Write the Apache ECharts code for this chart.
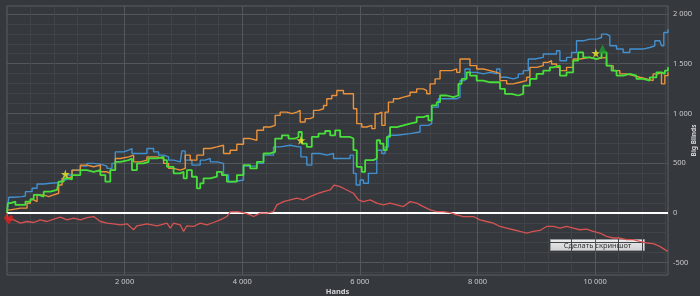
<!DOCTYPE html>
<html><head><meta charset="utf-8">
<script src="https://cdn.jsdelivr.net/npm/echarts@6/dist/echarts.min.js"></script>
<style>html,body{margin:0;padding:0;background:#35383c;}#c{width:700px;height:296px;}</style>
</head><body><div id="c"></div>
<script>
// [hands, big blinds]
const blueLine = [[0,0],[30,157],[115,163],[256,170],[313,213],[426,247],[511,290],[624,297],[737,303],[851,320],[936,337],[1021,380],[1106,430],[1247,470],[1360,497],[1474,490],[1587,470],[1700,447],[1785,497],[1842,613],[1983,630],[2068,647],[2125,597],[2266,597],[2380,647],[2493,613],[2578,580],[2663,563],[2748,530],[2833,513],[2946,513],[2974,623],[3031,530],[3144,480],[3286,530],[3371,547],[3456,513],[3569,497],[3682,380],[3767,313],[3852,330],[4022,470],[4249,497],[4362,580],[4532,663],[4645,680],[4815,663],[4957,663],[4997,563],[5098,480],[5183,597],[5325,580],[5438,597],[5552,547],[5721,547],[5835,580],[5891,397],[5937,280],[6005,330],[6061,297],[6146,397],[6231,397],[6288,630],[6373,597],[6429,663],[6486,780],[6628,797],[6854,813],[7024,880],[7165,897],[7222,1063],[7335,1147],[7533,1147],[7647,1163],[7703,1330],[7788,1447],[7873,1413],[7986,1397],[8099,1413],[8213,1397],[8326,1447],[8383,1363],[8496,1347],[8609,1363],[8694,1397],[8779,1430],[8864,1547],[8977,1563],[9119,1597],[9232,1597],[9345,1630],[9402,1530],[9515,1563],[9600,1613],[9685,1730],[9798,1747],[9912,1747],[10025,1763],[10110,1797],[10195,1780],[10251,1680],[10365,1647],[10478,1613],[10591,1647],[10704,1647],[10817,1663],[10931,1680],[11016,1730],[11101,1747],[11129,1680],[11169,1813],[11240,1847]];
const orangeLine = [[0,0],[13,30],[58,47],[228,47],[341,97],[398,130],[454,113],[511,180],[624,163],[709,180],[794,197],[879,280],[936,347],[1021,363],[1106,430],[1247,480],[1360,463],[1474,480],[1587,413],[1700,397],[1757,430],[1842,547],[1927,563],[2068,580],[2153,513],[2266,530],[2380,563],[2550,547],[2663,497],[2748,447],[2833,430],[2946,447],[3031,580],[3116,530],[3229,580],[3342,647],[3456,663],[3569,680],[3682,597],[3795,630],[3908,690],[4022,747],[4136,730],[4249,830],[4362,863],[4476,880],[4560,980],[4645,1013],[4759,997],[4844,1013],[4929,1030],[4985,913],[5070,947],[5155,963],[5212,1030],[5297,1047],[5382,1080],[5438,1147],[5523,1180],[5608,1230],[5721,1197],[5835,1197],[5891,1047],[5948,897],[6033,863],[6118,880],[6203,847],[6259,997],[6316,1013],[6373,880],[6429,1013],[6486,1113],[6571,1147],[6656,1163],[6741,1180],[6854,1213],[6967,1247],[7080,1230],[7137,1197],[7194,1297],[7279,1347],[7364,1430],[7477,1430],[7562,1447],[7647,1413],[7703,1547],[7788,1547],[7873,1480],[7986,1447],[8099,1430],[8213,1413],[8326,1397],[8383,1330],[8496,1297],[8609,1313],[8722,1330],[8836,1363],[8892,1463],[9005,1480],[9119,1513],[9204,1530],[9260,1497],[9345,1463],[9402,1430],[9515,1463],[9628,1547],[9742,1563],[9912,1547],[10025,1557],[10110,1563],[10195,1480],[10308,1430],[10421,1397],[10535,1380],[10648,1363],[10761,1347],[10874,1330],[10987,1397],[11072,1413],[11129,1297],[11186,1380],[11240,1413]];
const greenLine = [[0,0],[13,97],[58,113],[143,80],[228,80],[313,113],[398,137],[454,180],[539,163],[624,213],[737,230],[851,247],[879,313],[964,347],[1021,337],[1106,380],[1247,430],[1360,413],[1474,430],[1587,380],[1672,313],[1757,430],[1842,513],[1927,530],[2068,547],[2125,430],[2210,497],[2323,513],[2408,547],[2550,563],[2663,530],[2720,463],[2833,397],[2946,413],[3003,347],[3059,430],[3144,363],[3229,247],[3286,297],[3342,347],[3456,363],[3569,413],[3654,380],[3739,313],[3796,313],[3909,380],[4022,480],[4136,447],[4249,513],[4362,597],[4476,613],[4560,747],[4674,780],[4787,747],[4900,763],[4957,813],[5014,697],[5098,663],[5183,763],[5297,797],[5410,823],[5495,780],[5580,830],[5665,763],[5778,763],[5835,747],[5891,630],[5948,463],[6033,413],[6090,530],[6175,530],[6231,547],[6288,730],[6344,697],[6401,630],[6458,763],[6514,863],[6628,880],[6741,897],[6854,913],[6967,963],[7080,980],[7165,930],[7222,1080],[7307,1113],[7364,1180],[7477,1163],[7590,1180],[7675,1297],[7732,1347],[7817,1413],[7873,1380],[7986,1330],[8099,1313],[8213,1313],[8326,1313],[8383,1247],[8467,1197],[8581,1180],[8694,1197],[8779,1280],[8892,1347],[9005,1397],[9119,1430],[9232,1463],[9289,1480],[9402,1380],[9515,1413],[9628,1530],[9713,1613],[9798,1563],[9912,1547],[10025,1563],[10110,1613],[10195,1480],[10280,1430],[10365,1380],[10478,1397],[10591,1380],[10704,1347],[10817,1330],[10931,1363],[11044,1413],[11129,1397],[11186,1430],[11240,1463]];
const redLine = [[0,0],[13,-63],[115,-70],[228,-103],[341,-87],[454,-97],[567,-70],[681,-87],[794,-63],[907,-43],[1021,-70],[1134,-53],[1247,-70],[1360,-47],[1474,-37],[1587,-87],[1700,-103],[1813,-110],[1927,-120],[2040,-110],[2153,-170],[2210,-130],[2380,-110],[2550,-130],[2720,-103],[2776,-153],[2833,-103],[2946,-120],[3003,-187],[3059,-130],[3172,-137],[3286,-103],[3399,-120],[3512,-97],[3626,-70],[3739,-37],[3796,10],[3909,13],[4022,3],[4136,-20],[4192,-37],[4306,-3],[4419,-3],[4532,13],[4589,80],[4702,113],[4815,130],[4929,147],[5042,130],[5155,163],[5268,190],[5382,213],[5495,230],[5563,280],[5665,263],[5778,230],[5891,197],[5976,130],[6061,113],[6175,130],[6288,97],[6401,80],[6514,97],[6628,80],[6741,63],[6854,113],[6967,97],[7080,63],[7194,30],[7307,13],[7420,13],[7534,3],[7647,-20],[7760,-37],[7816,-37],[7930,-37],[8043,-70],[8156,-87],[8269,-103],[8383,-137],[8496,-153],[8609,-170],[8722,-187],[8836,-203],[8949,-187],[9062,-177],[9175,-137],[9289,-137],[9402,-153],[9515,-137],[9628,-153],[9742,-170],[9855,-163],[9968,-187],[10081,-203],[10195,-237],[10308,-253],[10421,-253],[10535,-270],[10648,-270],[10761,-287],[10874,-303],[10987,-310],[11101,-337],[11186,-370],[11240,-387]];
const starPoints = [[992,390],[4997,730],[10013,1607]];
const trianglePoints = [[10127,1647]];
const heartPoints = [[29,-70]];
const xTickLabels = [2000,4000,6000,8000,10000];
const yTickLabels = [-500,0,500,1000,1500,2000];
const buttonText = 'Сделать скриншот';

const xMin = 0, xMax = 11240, yMin = -625, yMax = 2080;
const xMinor = [], yMinor = [];
for (let v = 400; v < xMax; v += 400) if (v % 2000 !== 0) xMinor.push(v);
for (let v = -600; v <= 2000; v += 100) if (v % 500 !== 0) yMinor.push(v);

const fmt = v => String(v).replace(/\B(?=(\d{3})+(?!\d))/g, ' ');
const FONT = 'Noto Sans';
const labelColor = '#c9cbcd';

const chart = echarts.init(document.getElementById('c'), null, {renderer: 'canvas'});
chart.setOption({
  animation: false,
  backgroundColor: '#35383c',
  grid: {left: 7, right: 32, top: 6, bottom: 21, show: true, borderColor: '#5d6166', borderWidth: 1,
         backgroundColor: 'transparent', containLabel: false, outerBoundsMode: 'none'},
  xAxis: [
    {type: 'value', min: xMin, max: xMax, position: 'bottom',
     axisLine: {show: false}, axisTick: {show: false, customValues: xTickLabels},
     axisLabel: {customValues: xTickLabels, formatter: fmt, color: labelColor, fontSize: 7.5, fontFamily: FONT, margin: 3},
     splitLine: {show: true, lineStyle: {color: '#54585d', width: 1}},
     name: 'Hands', nameLocation: 'middle', nameGap: 13, nameMoveOverlap: false,
     nameTextStyle: {color: '#d4d6d8', fontSize: 7.5, fontWeight: 'bold', fontFamily: FONT}},
    {type: 'value', min: xMin, max: xMax, position: 'bottom',
     axisLine: {show: false}, axisTick: {show: false, customValues: xMinor},
     axisLabel: {show: false}, splitLine: {show: true, lineStyle: {color: '#404347', width: 1}}}
  ],
  yAxis: [
    {type: 'value', min: yMin, max: yMax, position: 'right',
     axisLine: {show: false}, axisTick: {show: false, customValues: yTickLabels},
     axisLabel: {customValues: yTickLabels, formatter: fmt, color: labelColor, fontSize: 7.5, fontFamily: FONT, margin: 5},
     splitLine: {show: true, lineStyle: {color: '#54585d', width: 1}},
     name: 'Big Blinds', nameLocation: 'middle', nameGap: 23, nameRotate: 90, nameMoveOverlap: false,
     nameTextStyle: {color: '#d4d6d8', fontSize: 6.5, fontWeight: 'bold', fontFamily: FONT}},
    {type: 'value', min: yMin, max: yMax, position: 'right',
     axisLine: {show: false}, axisTick: {show: false, customValues: yMinor},
     axisLabel: {show: false}, splitLine: {show: true, lineStyle: {color: '#404347', width: 1}}}
  ],
  series: [
    {type: 'line', data: blueLine, step: 'end', symbol: 'none', lineStyle: {color: '#4290d0', width: 1.4}, z: 2},
    {type: 'line', data: orangeLine, step: 'end', symbol: 'none', lineStyle: {color: '#ec923a', width: 1.4}, z: 3},
    {type: 'line', data: greenLine, step: 'end', symbol: 'none', lineStyle: {color: '#47e03a', width: 1.8}, z: 4},
    {type: 'line', data: redLine, symbol: 'none', lineStyle: {color: '#d65353', width: 1.3}, z: 5,
     markLine: {silent: true, symbol: ['none', 'none'], label: {show: false},
       lineStyle: {color: '#ffffff', width: 2, type: 'solid'}, data: [{yAxis: 0}]}},
    {type: 'scatter', data: starPoints, z: 10, symbolSize: 9,
     symbol: 'path://M50,0 L61,35 L98,35 L68,57 L79,91 L50,70 L21,91 L32,57 L2,35 L39,35 Z',
     itemStyle: {color: '#f4ea2a'}},
    {type: 'scatter', data: trianglePoints, z: 10, symbolSize: 9, symbol: 'triangle',
     itemStyle: {color: '#1f9a33'}},
    {type: 'scatter', data: heartPoints, z: 10, symbolSize: 9,
     symbol: 'path://M50,92 L10,50 C-8,30 12,2 35,10 C44,14 50,24 50,24 C50,24 56,14 65,10 C88,2 108,30 90,50 Z',
     itemStyle: {color: '#e0201f'}}
  ],
  graphic: [{
    type: 'group', left: 550, top: 239, z: 100,
    children: [
      {type: 'rect', shape: {x: 0, y: 0, width: 94, height: 11},
       style: {fill: new echarts.graphic.LinearGradient(0, 0, 0, 1, [{offset: 0, color: '#ececec'}, {offset: 1, color: '#cfd0d2'}]), stroke: '#9a9c9e', lineWidth: 1}},
      {type: 'text', style: {text: buttonText, x: 47, y: 6, align: 'center', verticalAlign: 'middle', fill: '#333333', font: '7.5px "Noto Sans"'}}
    ]
  }]
});
</script></body></html>
